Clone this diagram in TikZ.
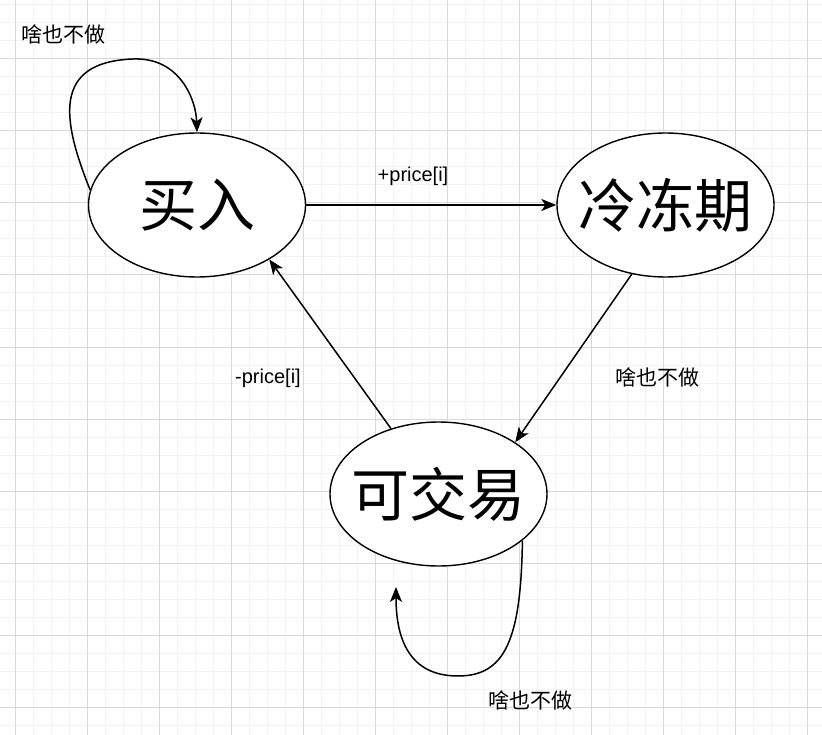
\documentclass[tikz,border=0pt]{standalone}
\usepackage{fontspec}
\setmainfont{Liberation Sans}
\newfontfamily\cjk{Noto Sans CJK SC}
\usetikzlibrary{shapes.geometric,arrows.meta}
\definecolor{minorgrid}{HTML}{F3F3F3}
\definecolor{majorgrid}{HTML}{D9D9D9}
\newcommand{\statetext}[1]{\makebox[0pt][c]{#1}}
\begin{document}
\begin{tikzpicture}[x=1pt,y=-1pt,
  state/.style={ellipse,draw=black,line width=1.4pt,fill=white,minimum width=217pt,minimum height=144pt,inner sep=0pt,font=\cjk\fontsize{58}{62}\selectfont},
  lbl/.style={inner sep=0pt,font=\fontsize{20}{24}\selectfont},
  cjklbl/.style={inner sep=0pt,font=\cjk\fontsize{21}{24}\selectfont},
  conn/.style={line width=1.5pt,-{Stealth[length=15pt,width=12pt,inset=4pt]}}]
\useasboundingbox (0,0) rectangle (822,735);
\fill[white] (0,0) rectangle (822,735);
\foreach \x in {15,33,...,822} \draw[minorgrid,line width=1pt] (\x,0) -- (\x,735);
\foreach \y in {5,23,...,735} \draw[minorgrid,line width=1pt] (0,\y) -- (822,\y);
\foreach \x in {15,87,...,822} \draw[majorgrid,line width=1pt] (\x,0) -- (\x,735);
\foreach \y in {59,131,...,735} \draw[majorgrid,line width=1pt] (0,\y) -- (822,\y);

\node[state] (buy) at (197,205) {\statetext{买入}};
\node[state] (cool) at (665.5,205) {\statetext{冷冻期}};
\node[state] (trade) at (438.5,494) {\statetext{可交易}};

\coordinate (loopend) at (396,587);

\node[cjklbl] (l1) at (63,34) {啥也不做};
\node[lbl] (l2) at (413,176) {+price[i]};
\node[cjklbl] (l3) at (657,377) {啥也不做};
\node[cjklbl] (l4) at (530,700) {啥也不做};
\node[lbl] (l5) at (268,378) {-price[i]};

\draw[conn] (buy.east) -- (cool.west);
\draw[conn] (cool.244) -- (trade.34);
\draw[conn] (trade.126) -- (buy.323.5);
\draw[conn] (buy.172) .. controls (62,120) and (52,62) .. (133,59)
  .. controls (180,57) and (196,100) .. (buy.north);
\draw[conn] (trade.331) .. controls (521,640) and (505,676) .. (458,676)
  .. controls (410,676) and (396,640) .. (loopend);
\end{tikzpicture}
\end{document}
